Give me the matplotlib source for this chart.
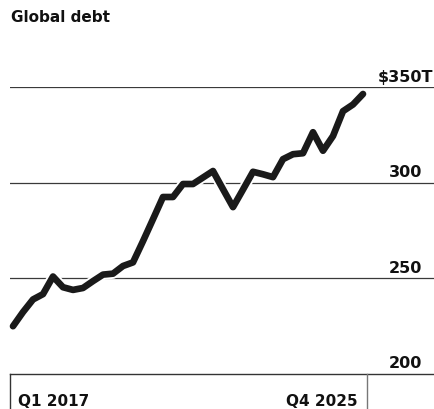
import matplotlib
matplotlib.use("Agg")
import matplotlib.pyplot as plt
import matplotlib.patheffects as pe
import matplotlib.transforms as mtransforms

# ---- data (global debt, $ trillions, quarterly Q1 2017 .. Q4 2025) ----
debt = [225, 232.4, 239, 241.8, 251, 245.4, 244, 245, 248.6, 252,
        252.5, 256.5, 258.4, 269.5, 281, 292.6, 292.6, 299.4, 299.4, 302.8,
        306.2, 296.7, 287.3, 296.5, 305.8, 304.5, 303, 312.4, 315, 315.5,
        326.5, 316.8, 324.5, 337.5, 341, 346.5]
first_label = "Q1 2017"
last_label = "Q4 2025"
y_ticks = [200, 250, 300, 350]
y_labels = ["200", "250", "300", "$350T"]
title = "Global debt"

W, H = 435, 410
fig = plt.figure(figsize=(W / 100, H / 100), dpi=100)
fig.patch.set_facecolor("white")

def fx(px):
    return px / W

def fy(py):
    return 1 - py / H

# axes: value 200 at y=375px, 350 at y=88.3px ; x from 10px to 435px
ax = fig.add_axes([fx(10), fy(375), fx(425), (375 - 88.3) / H])
ax.set_xlim(-0.3, 42.2)
ax.set_ylim(200, 350)
ax.axis("off")

FONT = "DejaVu Sans"

# gridlines
for v in y_ticks[1:]:
    ax.axhline(v, color="#3a3a3a", lw=0.9, zorder=1)

# data line with white halo
x = list(range(len(debt)))
ax.plot(x, debt, color="#1a1a1a", lw=4.8, solid_capstyle="round",
        solid_joinstyle="round", zorder=3, clip_on=False,
        path_effects=[pe.Stroke(linewidth=7.5, foreground="white"), pe.Normal()])

# y labels on the right, above each line
trans = mtransforms.blended_transform_factory(ax.transAxes, ax.transData)
off = mtransforms.ScaledTranslation(0, 6.5 / 100, fig.dpi_scale_trans)
for v, lab in zip(y_ticks, y_labels):
    if lab.endswith("T"):
        xr = (433 - 10) / 425
    else:
        xr = (422 - 10) / 425
    ax.text(xr, v, lab, transform=trans + off, ha="right", va="baseline",
            fontsize=11.5, fontweight="bold", family=FONT, color="#111111")

# bottom frame: horizontal line at 200, verticals at first point and end
fig.add_artist(plt.Line2D([fx(10), fx(435)], [fy(375), fy(375)], color="#333333", lw=1.0))
fig.add_artist(plt.Line2D([fx(10.5), fx(10.5)], [fy(375), fy(410)], color="#333333", lw=1.0))
fig.add_artist(plt.Line2D([fx(367), fx(367)], [fy(375), fy(410)], color="#777777", lw=1.0))

# x labels
fig.text(fx(18), fy(406.5), first_label, ha="left", va="baseline",
         fontsize=11, fontweight="bold", family=FONT, color="#111111")
fig.text(fx(358), fy(406.5), last_label, ha="right", va="baseline",
         fontsize=11, fontweight="bold", family=FONT, color="#111111")

# title
fig.text(fx(11), fy(22), title, ha="left", va="baseline",
         fontsize=11, fontweight="bold", family=FONT, color="#111111")

fig.savefig("out.png", dpi=100, facecolor="white")
